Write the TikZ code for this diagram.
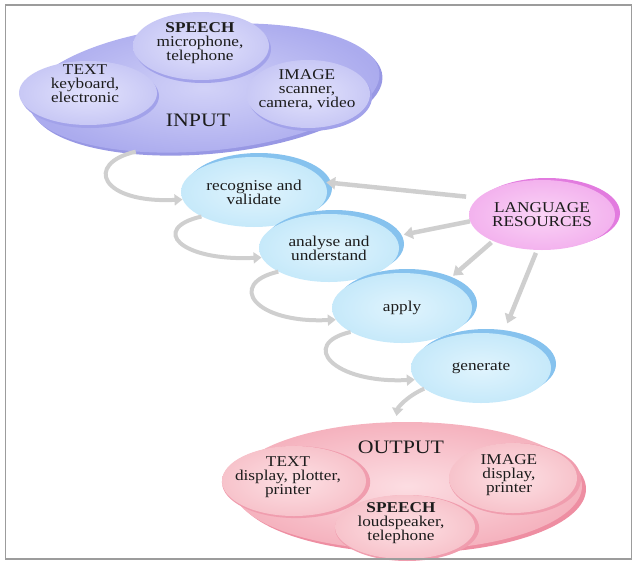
\documentclass[tikz,border=0pt]{standalone}
\usepackage{fontspec}
\setmainfont{Liberation Serif}[FakeStretch=1.15]
\usetikzlibrary{shapes.geometric,shadows,arrows.meta}

\definecolor{txt}{HTML}{1C1C1C}
\definecolor{frameg}{HTML}{9C9C9C}
\definecolor{arrg}{HTML}{CFCFCF}
\definecolor{inBlobIn}{HTML}{D2D2F8}
\definecolor{inBlobOut}{HTML}{ABABEE}
\definecolor{inBlobRim}{HTML}{9898E4}
\definecolor{inSubIn}{HTML}{E2E2FC}
\definecolor{inSubOut}{HTML}{C8C8F5}
\definecolor{inSubRim}{HTML}{A2A2EA}
\definecolor{prIn}{HTML}{E0F4FD}
\definecolor{prOut}{HTML}{C6E9FA}
\definecolor{prRim}{HTML}{86C2EE}
\definecolor{lrIn}{HTML}{FAD4F6}
\definecolor{lrOut}{HTML}{F3B2EE}
\definecolor{lrRim}{HTML}{E27BDF}
\definecolor{outBlobIn}{HTML}{FCDDE2}
\definecolor{outBlobOut}{HTML}{F5B2BE}
\definecolor{outBlobRim}{HTML}{EE8EA2}
\definecolor{outSubIn}{HTML}{FDE0E4}
\definecolor{outSubOut}{HTML}{F7C3CB}
\definecolor{outSubRim}{HTML}{F09DAE}

\begin{document}
\begin{tikzpicture}[x=1pt,y=-1pt,
  lbl/.style={align=center, inner sep=0pt, text=txt, font=\fontsize{15}{14}\selectfont},
  head/.style={inner sep=0pt, text=txt, font=\fontsize{19}{20}\selectfont},
  oval/.style={ellipse, inner sep=0pt, shade},
  inbig/.style={oval, inner color=inBlobIn, outer color=inBlobOut,
    drop shadow={shadow xshift=3pt, shadow yshift=-3pt, fill=inBlobRim, opacity=1}},
  insub/.style={oval, inner color=inSubIn, outer color=inSubOut,
    drop shadow={shadow xshift=2pt, shadow yshift=-3pt, fill=inSubRim, opacity=1}},
  stage/.style={oval, lbl, inner color=prIn, outer color=prOut,
    minimum width=140pt, minimum height=70pt,
    drop shadow={shadow xshift=5pt, shadow yshift=4pt, fill=prRim, opacity=1}},
  resource/.style={oval, lbl, inner color=lrIn, outer color=lrOut,
    drop shadow={shadow xshift=5pt, shadow yshift=2pt, fill=lrRim, opacity=1}},
  outbig/.style={oval, inner color=outBlobIn, outer color=outBlobOut,
    drop shadow={shadow xshift=4pt, shadow yshift=-3pt, fill=outBlobRim, opacity=1}},
  outsub/.style={oval, inner color=outSubIn, outer color=outSubOut,
    drop shadow={shadow scale=1.03, shadow xshift=2pt, shadow yshift=-1pt, fill=outSubRim, opacity=1}},
  feed/.style={draw=arrg, line width=4.5pt, -{Triangle[width=12pt,length=9pt]}},
  loopar/.style={draw=arrg, line width=4pt, -{Triangle[width=11pt,length=8pt]}}
]
\useasboundingbox (0,0) rectangle (636,565);

% ---- input devices ----
\node[inbig, minimum width=352pt, minimum height=126pt, rotate=5] (inblob) at (204,88) {};
\node[insub, minimum width=124pt, minimum height=68pt] (inimage) at (308,94) {};
\node[insub, minimum width=138pt, minimum height=64pt] (intext) at (88,93) {};
\node[insub, minimum width=136pt, minimum height=68pt] (inspeech) at (201,46) {};
\node[lbl] (inspeechT) at (200,43) {\textbf{SPEECH}\\microphone,\\telephone};
\node[lbl] (intextT) at (85,84) {TEXT\\keyboard,\\electronic};
\node[lbl] (inimageT) at (307,90) {IMAGE\\scanner,\\camera, video};
\node[head] (inlabel) at (198,120) {INPUT};

% ---- processing stages ----
\node[stage, minimum width=146pt] (rec) at (254,192) {recognise and\\validate};
\node[stage, minimum height=68pt] (ana) at (329,248) {analyse and\\understand};
\node[stage] (app) at (402,308) {apply};
\node[stage] (gen) at (481,368) {generate};
\node[resource, minimum width=146pt, minimum height=70pt] (lr) at (542,215) {LANGUAGE\\RESOURCES};

% ---- output devices ----
\node[outbig, minimum width=350pt, minimum height=128pt] (outblob) at (407,486) {};
\node[outsub, minimum width=144pt, minimum height=70pt] (outtext) at (294,481) {};
\node[outsub, minimum width=128pt, minimum height=70pt] (outimage) at (513,478) {};
\node[outsub, minimum width=140pt, minimum height=64pt] (outspeech) at (405,527) {};
\node[lbl] (outtextT) at (288,477) {TEXT\\display, plotter,\\printer};
\node[lbl] (outimageT) at (509,475) {IMAGE\\display,\\printer};
\node[lbl] (outspeechT) at (401,523) {\textbf{SPEECH}\\loudspeaker,\\telephone};
\node[head] (outlabel) at (401,447) {OUTPUT};

% ---- flow from stage to stage ----
\draw[loopar] (inblob.218) .. controls +(-52,12) and +(-82,4) .. (rec.186);
\draw[loopar] (rec.205) .. controls +(-52,12) and +(-82,4) .. (ana.188);
\draw[loopar] (ana.205) .. controls +(-52,12) and +(-82,4) .. (app.190);
\draw[loopar] (app.205) .. controls +(-52,12) and +(-82,4) .. (gen.190);
\draw[loopar, shorten >=6pt] (gen.200) .. controls +(-18,8) and +(2,-14) .. (outblob.100);

% ---- resources feeding the stages ----
\draw[feed, shorten <=12pt, shorten >=2pt] (lr.165) -- (rec.8);
\draw[feed, shorten >=9pt] (lr.185) -- (ana.10);
\draw[feed, shorten <=2pt, shorten >=8pt] (lr.208) -- (app.31);
\draw[feed, shorten <=3pt, shorten >=12pt] (lr.262) -- (gen.57);

% ---- frame ----
\draw[frameg, line width=1.5pt] (5.5,5) rectangle (631.5,559);
\end{tikzpicture}
\end{document}
